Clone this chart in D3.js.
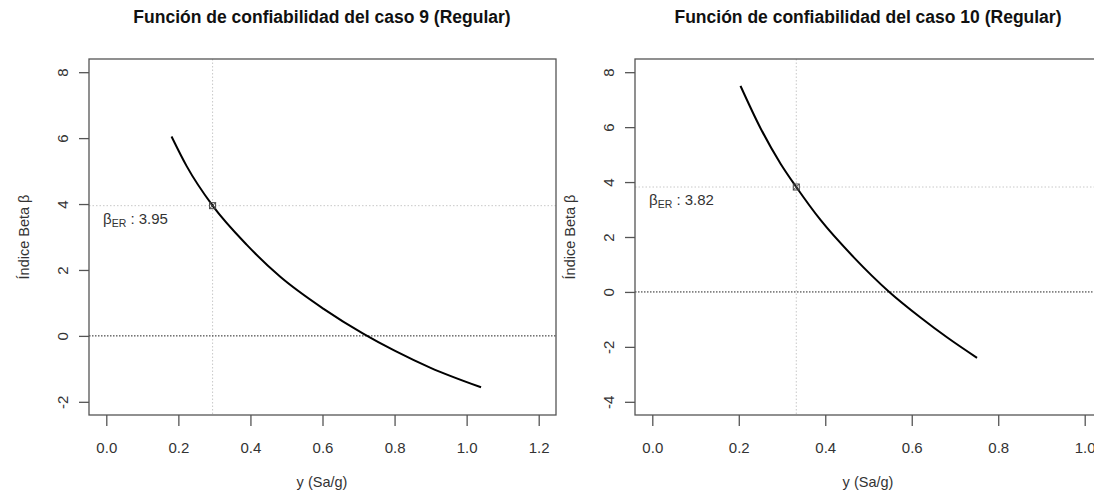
<!DOCTYPE html>
<html lang="es">
<head>
<meta charset="utf-8">
<title>Función de confiabilidad</title>
<script src="https://cdn.jsdelivr.net/npm/d3@7"></script>
<style>
  body { margin: 0; background: #fff; }
  svg { display: block; font-family: "Liberation Sans", Arial, sans-serif; }
  .tick text { fill: #333; }
</style>
</head>
<body>
<div id="chart"></div>
<script>
  // caso 9
  const y9 = [0.181, 0.223, 0.295, 0.39, 0.482, 0.603, 0.714, 0.80, 0.90, 1.04];
  const beta9 = [6.05, 5.15, 3.95, 2.76, 1.8, 0.82, 0.06, -0.45, -0.97, -1.56];
  const xTicks9 = [0.0, 0.2, 0.4, 0.6, 0.8, 1.0, 1.2];
  const yTicks9 = [-2, 0, 2, 4, 6, 8];
  // caso 10
  const y10 = [0.204, 0.25, 0.297, 0.333, 0.389, 0.466, 0.548, 0.621, 0.683, 0.751];
  const beta10 = [7.5, 5.97, 4.66, 3.82, 2.62, 1.26, 0.0, -0.94, -1.67, -2.4];
  const xTicks10 = [0.0, 0.2, 0.4, 0.6, 0.8, 1.0];
  const yTicks10 = [-4, -2, 0, 2, 4, 6, 8];
  // punto de confiabilidad
  const pointX = [0.295, 0.333];
  const betaER = [3.95, 3.82];
  const titles = ['Función de confiabilidad del caso 9 (Regular)', 'Función de confiabilidad del caso 10 (Regular)'];

  const width = 1094, height = 491;
  const svg = d3.select('#chart').append('svg').attr('width', width).attr('height', height);

  // R style: range extended 4% on each side
  function ext(a, b) { const d = (b - a) * 0.04; return [a - d, b + d]; }

  function drawPanel(p) {
    const x = d3.scaleLinear().domain(ext(p.xlim[0], p.xlim[1])).range([p.left, p.left + 467]);
    const y = d3.scaleLinear().domain(ext(p.ylim[0], p.ylim[1])).range([415, 59]);
    const g = svg.append('g');
    const inner = g.append('g');

    // title
    g.append('text')
      .attr('x', p.left + 233).attr('y', 23)
      .attr('text-anchor', 'middle')
      .attr('font-size', 17.5).attr('font-weight', 'bold').attr('fill', '#111')
      .text(p.title);

    // reference lines
    inner.append('line')
      .attr('x1', x(p.px)).attr('x2', x(p.px)).attr('y1', 59).attr('y2', 415)
      .attr('stroke', '#c8c8c8').attr('stroke-dasharray', '1.5,2');
    inner.append('line')
      .attr('x1', p.left).attr('x2', p.left + 467).attr('y1', y(p.beta)).attr('y2', y(p.beta))
      .attr('stroke', '#c8c8c8').attr('stroke-dasharray', '1.5,2');
    inner.append('line')
      .attr('x1', p.left).attr('x2', p.left + 467).attr('y1', y(0)).attr('y2', y(0))
      .attr('stroke', '#222').attr('stroke-dasharray', '1.5,1.5');

    // curve
    const pts = p.xs.map((v, i) => [v, p.ys[i]]);
    inner.append('path')
      .datum(pts)
      .attr('fill', 'none').attr('stroke', '#000').attr('stroke-width', 2)
      .attr('d', d3.line().x(d => x(d[0])).y(d => y(d[1])).curve(d3.curveMonotoneX));

    // marker (square with cross)
    const mx = x(p.px), my = y(p.beta), s = 3;
    inner.append('rect')
      .attr('x', mx - s).attr('y', my - s).attr('width', 2 * s).attr('height', 2 * s)
      .attr('fill', 'none').attr('stroke', '#444').attr('stroke-width', 1);
    inner.append('path')
      .attr('d', `M${mx - s},${my - s}L${mx + s},${my + s}M${mx - s},${my + s}L${mx + s},${my - s}`)
      .attr('stroke', '#444').attr('stroke-width', 1);

    // annotation
    const t = g.append('text')
      .attr('x', p.left + 14).attr('y', y(p.beta) + 18)
      .attr('font-size', 15).attr('fill', '#333');
    t.append('tspan').text('β');
    t.append('tspan').attr('font-size', 10.5).attr('dy', 3).text('ER');
    t.append('tspan').attr('dy', -3).text(' : ' + p.beta.toFixed(2));

    // box
    g.append('rect')
      .attr('x', p.left).attr('y', 59).attr('width', 467).attr('height', 356)
      .attr('fill', 'none').attr('stroke', '#555').attr('stroke-width', 1.3);

    // axes
    const xAxis = d3.axisBottom(x).tickValues(p.xTicks).tickFormat(d => d.toFixed(1)).tickSize(11).tickPadding(16);
    const gx = g.append('g').attr('transform', 'translate(0,415)').call(xAxis);
    gx.select('.domain').remove();
    gx.selectAll('line').attr('stroke', '#555').attr('stroke-width', 1.3);
    gx.selectAll('text').attr('font-size', 15);

    const yAxis = d3.axisLeft(y).tickValues(p.yTicks).tickFormat(d => String(d)).tickSize(10).tickPadding(8);
    const gy = g.append('g').attr('transform', `translate(${p.left},0)`).call(yAxis);
    gy.select('.domain').remove();
    gy.selectAll('line').attr('stroke', '#555').attr('stroke-width', 1.3);
    gy.selectAll('text')
      .attr('font-size', 15)
      .attr('text-anchor', 'middle')
      .attr('dy', 0)
      .attr('x', 0)
      .attr('transform', 'translate(-21,0) rotate(-90)');

    // axis titles
    g.append('text')
      .attr('x', p.left + 233).attr('y', 487)
      .attr('text-anchor', 'middle').attr('font-size', 14.5).attr('fill', '#333')
      .text('y (Sa/g)');
    g.append('text')
      .attr('transform', `translate(${p.left - 60},237) rotate(-90)`)
      .attr('text-anchor', 'middle').attr('font-size', 14.5).attr('fill', '#333')
      .text('Índice Beta β');
  }

  drawPanel({ left: 89, xlim: [0, 1.2], ylim: [-2, 8], xs: y9, ys: beta9, xTicks: xTicks9, yTicks: yTicks9, px: pointX[0], beta: betaER[0], title: titles[0] });
  drawPanel({ left: 635, xlim: [0, 1.0], ylim: [-4, 8], xs: y10, ys: beta10, xTicks: xTicks10, yTicks: yTicks10, px: pointX[1], beta: betaER[1], title: titles[1] });
</script>
</body>
</html>
